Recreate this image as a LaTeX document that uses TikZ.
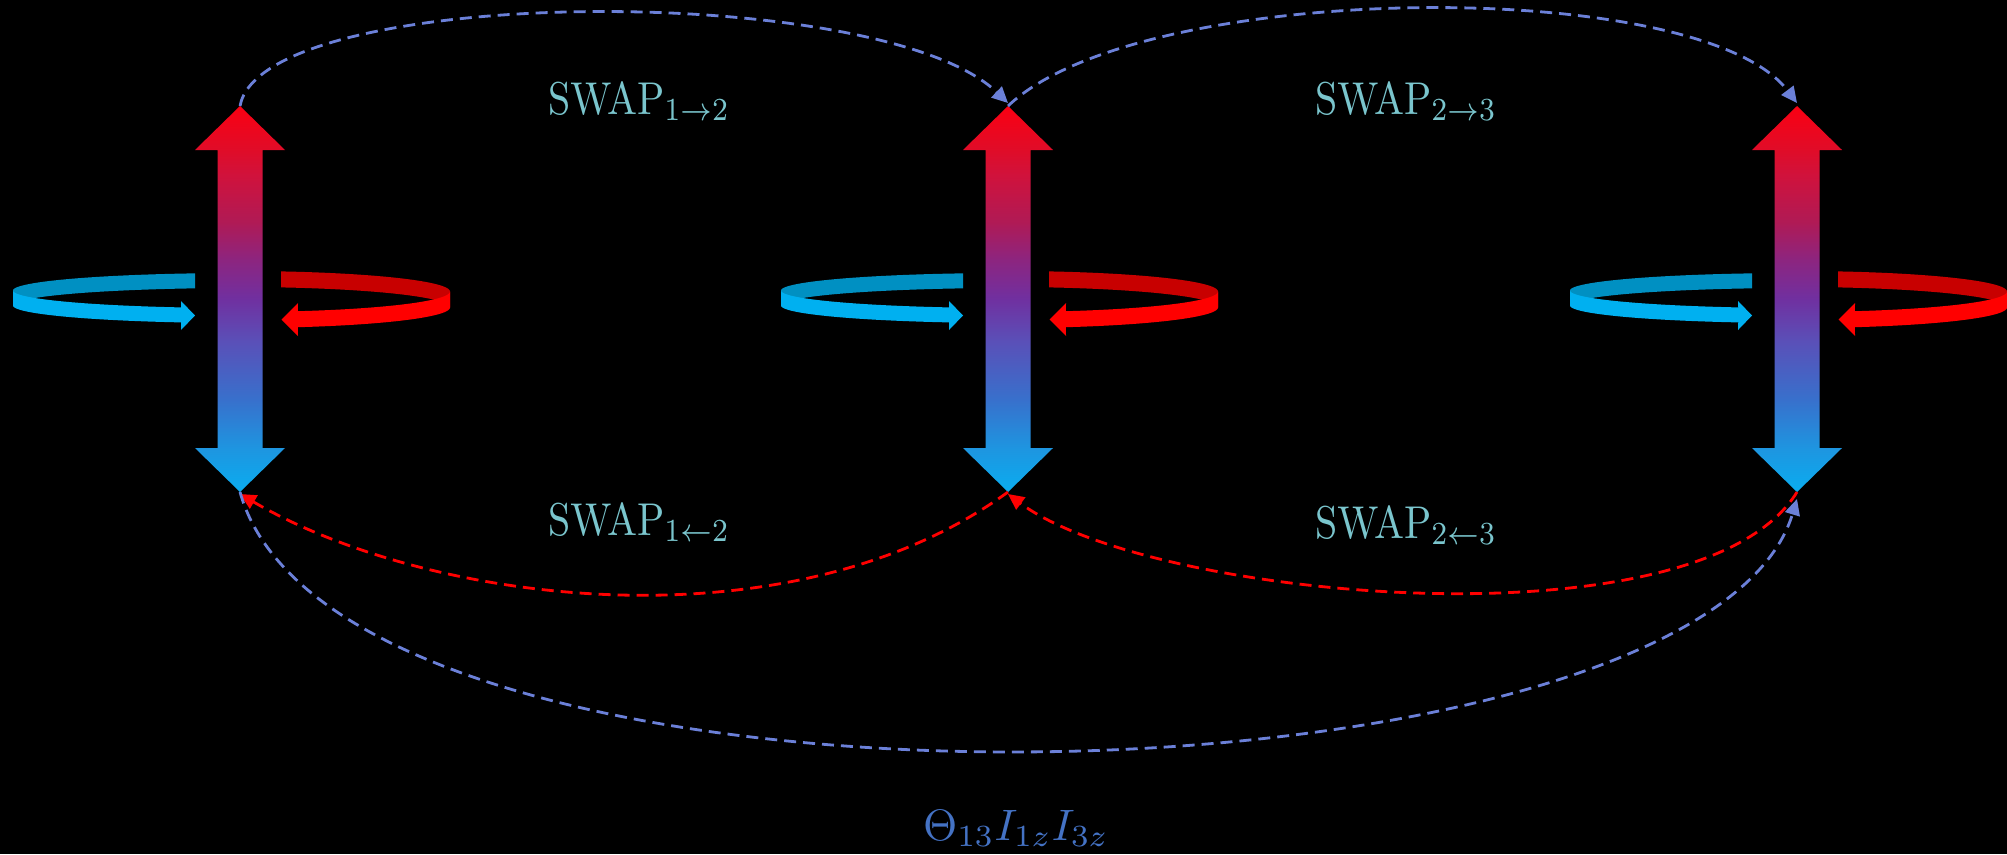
\documentclass[tikz,border=0pt]{standalone}
\usetikzlibrary{arrows.meta}
\definecolor{swapc}{HTML}{7AC5CD}
\definecolor{thetac}{HTML}{4472C4}
\definecolor{dashblue}{HTML}{6B80D8}
\definecolor{bluedark}{HTML}{0090C2}
\definecolor{bluelight}{HTML}{00B0F0}
\definecolor{reddark}{HTML}{C80000}
\definecolor{redlight}{HTML}{FF0000}
\definecolor{purplemid}{HTML}{7030A0}
\definecolor{gA}{HTML}{FA0012}
\definecolor{gB}{HTML}{E00C28}
\definecolor{gC}{HTML}{D0123C}
\definecolor{gD}{HTML}{B01A55}
\definecolor{gE}{HTML}{8C2580}
\definecolor{gF}{HTML}{7030A0}
\definecolor{gG}{HTML}{5A50B8}
\definecolor{gH}{HTML}{3870CC}
\definecolor{gI}{HTML}{1E95E0}
\definecolor{gJ}{HTML}{0AADF0}
\pgfdeclareverticalshading{spinshade}{100bp}{%
  color(0bp)=(gJ); color(25bp)=(gJ); color(30.7bp)=(gI); color(37bp)=(gH);
  color(44.5bp)=(gG); color(50bp)=(gF); color(55bp)=(gE); color(60bp)=(gD);
  color(66bp)=(gC); color(69.3bp)=(gB); color(75bp)=(gA); color(100bp)=(gA)}
\tikzset{
  linkbase/.style={line width=2.8pt, dash pattern=on 12pt off 7pt, -{Triangle[length=16pt,width=15pt]}},
  fwdlink/.style={linkbase, dashblue},
  bwdlink/.style={linkbase, redlight},
  swaplbl/.style={anchor=base west, inner sep=0pt, text=swapc, font=\fontsize{10}{12}\selectfont},
  hamlbl/.style={anchor=base west, inner sep=0pt, text=thetac, font=\fontsize{10}{12}\selectfont},
}
\newcommand\spinunit[2]{%
  % blue ring: back (inside) face
  \fill[bluedark] plot[domain=101.4:180,samples=40] ({#1+227*cos(\x)},{290.5-17.5*sin(\x)})
     -- plot[domain=180:101.4,samples=40] ({#1+227*cos(\x)},{305.5-17.5*sin(\x)}) -- cycle;
  % blue ring: front face with arrowhead
  \fill[bluelight] plot[domain=180:255,samples=40] ({#1+227*cos(\x)},{290.5-17.5*sin(\x)})
     -- (#1-59,301) -- (#1-45,315.5) -- (#1-59,330)
     -- plot[domain=255:180,samples=40] ({#1+227*cos(\x)},{305.5-17.5*sin(\x)}) -- cycle;
  % red ring: back face
  \fill[reddark] plot[domain=78.7:0,samples=40] ({#1+210*cos(\x)},{291.5-20.5*sin(\x)})
     -- plot[domain=0:78.7,samples=40] ({#1+210*cos(\x)},{307.5-20.5*sin(\x)}) -- cycle;
  % red ring: front face with arrowhead
  \fill[redlight] plot[domain=0:-74,samples=40] ({#1+210*cos(\x)},{291.5-20.5*sin(\x)})
     -- (#1+58,303) -- (#1+41.5,319.5) -- (#1+58,336)
     -- plot[domain=-74:0,samples=40] ({#1+210*cos(\x)},{307.5-20.5*sin(\x)}) -- cycle;
  % vertical double arrow
  \shade[shading=spinshade]
     (#1,106) -- (#1+45,150) -- (#1+22.5,150) -- (#1+22.5,448) -- (#1+45,448) -- (#1,492)
     -- (#1-45,448) -- (#1-22.5,448) -- (#1-22.5,150) -- (#1-45,150) -- cycle;
  \coordinate (#2top) at (#1,106);
  \coordinate (#2bot) at (#1,492);
}
\begin{document}
\begin{tikzpicture}[x=1pt,y=-1pt]
  \fill[black] (0,0) rectangle (2007,854);
  \useasboundingbox (0,0) rectangle (2007,854);
  \spinunit{240}{s1}
  \spinunit{1008}{s2}
  \spinunit{1797}{s3}
  % forward swaps
  \draw[fwdlink] (s1top) .. controls (262,-15) and (880,-20) .. ([yshift=3pt]s2top);
  \draw[fwdlink] (s2top) .. controls (1140,-20) and (1700,-25) .. ([yshift=3pt]s3top);
  % backward swaps
  \draw[bwdlink] (s2bot) .. controls (790,650) and (430,605) .. ([yshift=-2pt]s1bot);
  \draw[bwdlink] (s3bot) .. controls (1700,650) and (1150,600) .. ([yshift=-2pt]s2bot);
  % 1-3 coupling
  \draw[fwdlink] (s1bot) .. controls (340,850) and (1700,820) .. ([yshift=-7pt]s3bot);
  % labels
  \node[swaplbl] (l12) at (548,114) {\scalebox{4.0}[4.6]{$\mathrm{SWAP}_{1\rightarrow2}$}};
  \node[swaplbl] (l23) at (1315,114) {\scalebox{4.0}[4.6]{$\mathrm{SWAP}_{2\rightarrow3}$}};
  \node[swaplbl] (l21) at (548,535) {\scalebox{4.0}[4.6]{$\mathrm{SWAP}_{1\leftarrow2}$}};
  \node[swaplbl] (l32) at (1315,538) {\scalebox{4.0}[4.6]{$\mathrm{SWAP}_{2\leftarrow3}$}};
  \node[hamlbl] (ham) at (923,840) {\scalebox{4.4}{$\Theta_{13}I_{1z}I_{3z}$}};
\end{tikzpicture}
\end{document}
